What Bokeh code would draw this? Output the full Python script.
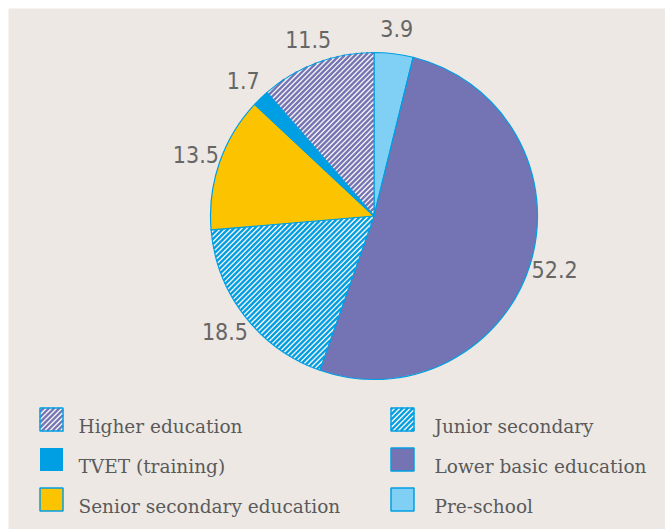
import math

from bokeh.core.properties import value
from bokeh.embed import file_html
from bokeh.models import Range1d
from bokeh.plotting import figure
from bokeh.resources import INLINE

# Share of spending by level of education (%), clockwise from 12 o'clock
categories = ["Pre-school", "Lower basic education", "Junior secondary",
              "Senior secondary education", "TVET (training)", "Higher education"]
shares = [3.9, 52.2, 18.5, 13.5, 1.7, 11.5]
value_labels = ["3.9", "52.2", "18.5", "13.5", "1.7", "11.5"]

# Legend reads down the first column, then down the second
legend_order = ["Higher education", "TVET (training)", "Senior secondary education",
                "Junior secondary", "Lower basic education", "Pre-school"]

BLUE = "#009FE3"
PURPLE = "#7473B4"
PALE = "#F4F2F0"
fills = {
    "Pre-school": "#80D0F5",
    "Lower basic education": PURPLE,
    "Junior secondary": PALE,
    "Senior secondary education": "#FCC300",
    "TVET (training)": BLUE,
    "Higher education": PALE,
}
stripes = {"Junior secondary": BLUE, "Higher education": PURPLE}

STEP = 5.2     # horizontal distance between stripes
STRIPE_W = 2.3


def clip_interval(a, b, lo, hi):
    """Restrict t in [lo, hi] to where a + b*t >= 0."""
    if abs(b) < 1e-12:
        return (lo, hi) if a >= 0 else (1, 0)
    t = -a / b
    if b > 0:
        return max(lo, t), hi
    return lo, min(hi, t)


def stripe_segments(halfplanes, disc, bbox):
    """'/' stripes (x - y = k) clipped to an intersection of half-planes and an optional disc.

    halfplanes: list of (nx, ny, c) meaning nx*x + ny*y + c >= 0.
    """
    xs, ys = [], []
    x0, x1, y0, y1 = bbox
    k = math.floor((x0 - y1) / STEP) * STEP
    while k <= x1 - y0:
        # P(t) = (k + t, t)
        lo, hi = -1e9, 1e9
        for nx, ny, c in halfplanes:
            lo, hi = clip_interval(nx * k + c, nx + ny, lo, hi)
        if disc is not None:
            cx, cy, r = disc
            ax, ay = k - cx, -cy
            A, B, C = 2.0, 2 * (ax + ay), ax * ax + ay * ay - r * r
            D = B * B - 4 * A * C
            if D <= 0:
                lo, hi = 1, 0
            else:
                sq = math.sqrt(D)
                lo, hi = max(lo, (-B - sq) / (2 * A)), min(hi, (-B + sq) / (2 * A))
        if hi > lo:
            xs.append([k + lo, k + hi])
            ys.append([lo, hi])
        k += STEP
    return xs, ys


W, H = 665, 529
p = figure(width=W, height=H, x_range=Range1d(0, W), y_range=Range1d(0, H),
           x_axis_type=None, y_axis_type=None, toolbar_location=None,
           output_backend="svg", min_border=0, outline_line_color=None,
           background_fill_color="white", border_fill_color="white")
p.grid.visible = False

# beige panel
p.quad(left=8, right=W, bottom=0, top=H - 8, fill_color="#EDE8E4", line_color=None)

cx, cy, r = 373.5, H - 215.5, 163.5
total = sum(shares)
cum = 0.0
label_font = value("'Liberation Sans Narrow', 'DejaVu Sans Condensed', sans-serif")
for cat, s, lab in zip(categories, shares, value_labels):
    c0, c1 = cum / total, (cum + s) / total
    cum += s
    start = math.pi / 2 - 2 * math.pi * c1
    end = math.pi / 2 - 2 * math.pi * c0
    p.wedge(x=cx, y=cy, radius=r, start_angle=start, end_angle=end,
            fill_color=fills[cat], line_color=None)
    if cat in stripes:
        # inside the wedge: cross(u_start, P-C) >= 0 and cross(P-C, u_end) >= 0
        hp = [(-math.sin(start), math.cos(start), math.sin(start) * cx - math.cos(start) * cy),
              (math.sin(end), -math.cos(end), -math.sin(end) * cx + math.cos(end) * cy)]
        xs, ys = stripe_segments(hp, (cx, cy, r), (cx - r, cx + r, cy - r, cy + r))
        p.multi_line(xs, ys, line_color=stripes[cat], line_width=STRIPE_W, line_cap="butt")
    p.wedge(x=cx, y=cy, radius=r, start_angle=start, end_angle=end,
            fill_color=None, line_color=BLUE, line_width=1.2)
    mid = (start + end) / 2
    lr = r + 25
    p.text(x=[cx + lr * math.cos(mid)], y=[cy + lr * math.sin(mid)], text=[lab],
           text_align="center", text_baseline="middle", text_color="#666666",
           text_font=label_font, text_font_size="23px")

# legend
col_marker_x = [51, 402]
col_text_x = [78, 434]
row_y = [419, 459, 499]
half = 11.5
for i, cat in enumerate(legend_order):
    col, row = divmod(i, 3)
    mx, my = col_marker_x[col], H - row_y[row]
    p.rect(x=[mx], y=[my], width=2 * half, height=2 * half,
           fill_color=fills[cat], line_color=None)
    if cat in stripes:
        hp = [(1, 0, -(mx - half)), (-1, 0, mx + half),
              (0, 1, -(my - half)), (0, -1, my + half)]
        xs, ys = stripe_segments(hp, None, (mx - half, mx + half, my - half, my + half))
        p.multi_line(xs, ys, line_color=stripes[cat], line_width=STRIPE_W, line_cap="butt")
    lc = None if cat == "TVET (training)" else BLUE
    p.rect(x=[mx], y=[my], width=2 * half, height=2 * half,
           fill_color=None, line_color=lc, line_width=1.5)
    p.text(x=[col_text_x[col]], y=[my - 7], text=[cat], text_align="left",
           text_baseline="alphabetic", text_color="#5A5A5A",
           text_font=value("DejaVu Serif"), text_font_size="18.5px")

open("out.html", "w").write(file_html(p, INLINE))
